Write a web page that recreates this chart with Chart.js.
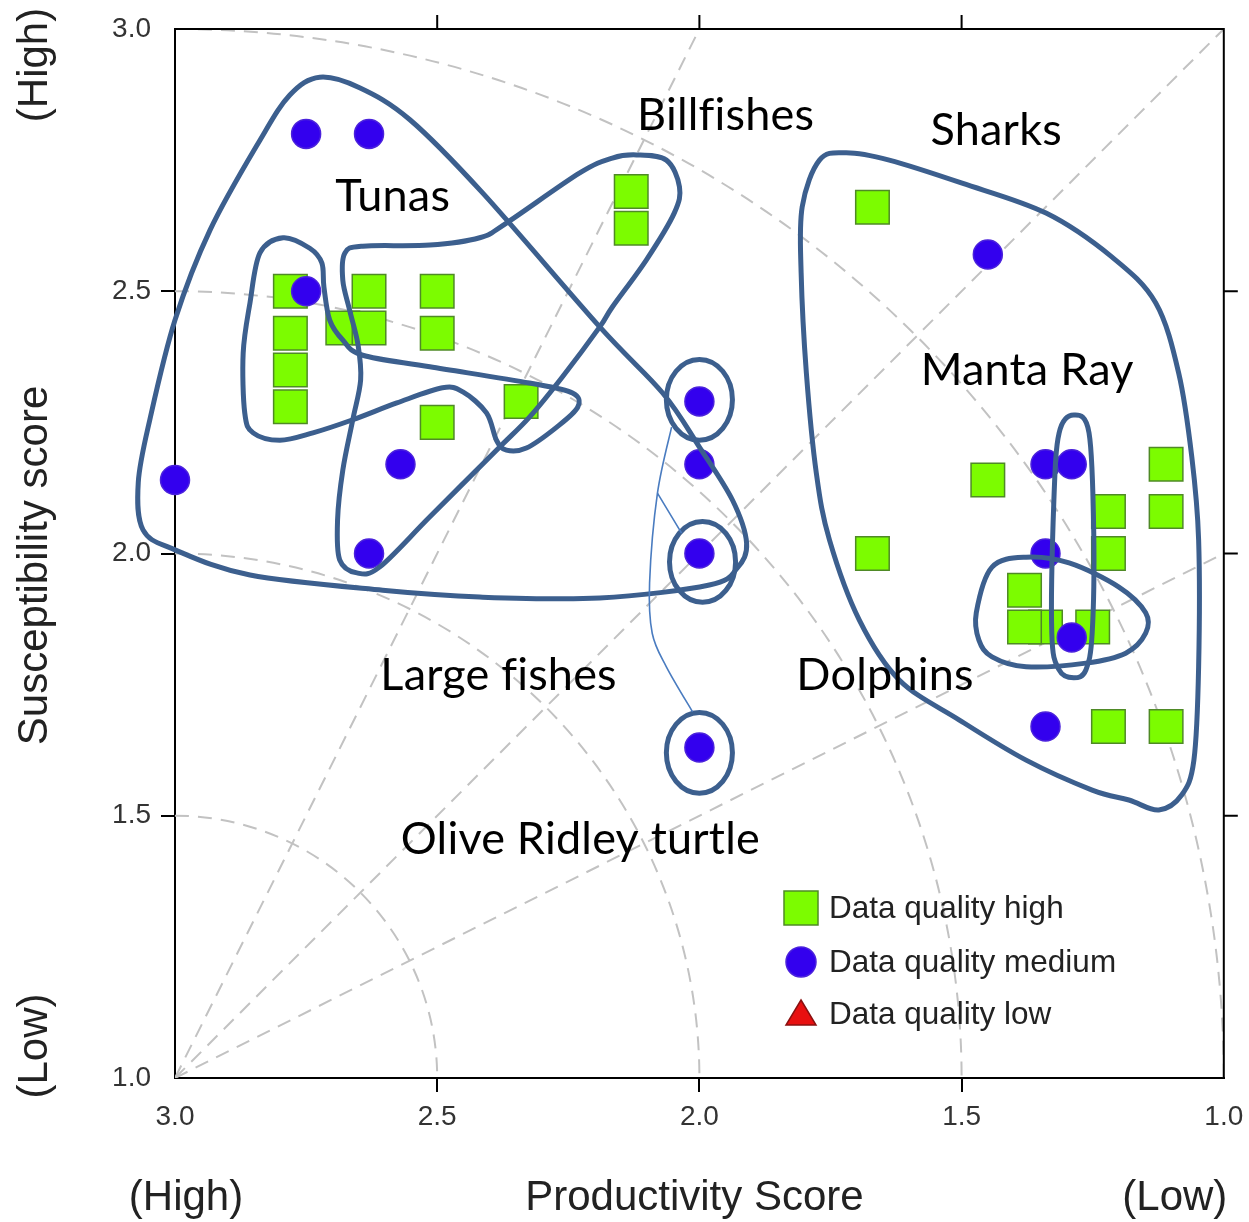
<!DOCTYPE html>
<html>
<head>
<meta charset="utf-8">
<script src="https://cdn.jsdelivr.net/npm/chart.js@4.4.1/dist/chart.umd.min.js"></script>
<style>
  html, body { margin: 0; padding: 0; background: #fff; }
  canvas { display: block; }
</style>
</head>
<body>
<canvas id="psa" width="1249" height="1222"></canvas>
<script>
// --- data (productivity x, susceptibility y) ---
const seriesNames = ["Data quality high", "Data quality medium", "Data quality low"];

// squares; the order matters where squares overlap
const highX = [2.78, 2.78, 2.78, 2.78, 2.68, 2.63, 2.63, 2.50, 2.50, 2.50, 2.34, 2.13, 2.13,
               1.67, 1.67, 1.45, 1.11, 1.11, 1.22, 1.22, 1.34, 1.38, 1.38, 1.25, 1.22, 1.11];
const highY = [2.50, 2.42, 2.35, 2.28, 2.43, 2.50, 2.43, 2.50, 2.42, 2.25, 2.29, 2.69, 2.62,
               2.66, 2.00, 2.14, 2.17, 2.08, 2.08, 2.00, 1.86, 1.93, 1.86, 1.86, 1.67, 1.67];

const mediumX = [2.75, 2.63, 2.75, 3.00, 2.57, 2.63, 2.00, 2.00, 2.00, 2.00, 1.45, 1.34, 1.29, 1.34, 1.29, 1.34];
const mediumY = [2.80, 2.80, 2.50, 2.14, 2.17, 2.00, 2.29, 2.17, 2.00, 1.63, 2.57, 2.17, 2.17, 2.00, 1.84, 1.67];

const lowX = [];
const lowY = [];

const tickValues = [1.0, 1.5, 2.0, 2.5, 3.0];
const xTickLabels = ["1.0", "1.5", "2.0", "2.5", "3.0"];
const yTickLabels = ["1.0", "1.5", "2.0", "2.5", "3.0"];

// hand drawn group outlines, in score units
const tunasOutline = [[2.724,2.908],[2.648,2.888],[2.552,2.827],[2.413,2.687],[2.190,2.432],[2.070,2.306],
  [2.000,2.203],[1.937,2.102],[1.910,2.020],[1.928,1.972],[1.981,1.940],[2.190,1.915],[2.419,1.917],
  [2.604,1.930],[2.857,1.959],[3.000,2.007],[3.061,2.045],[3.070,2.136],[3.048,2.255],[3.000,2.445],
  [2.933,2.617],[2.838,2.788],[2.781,2.874]];
const smallTunaOutline = [[2.794,2.602],[2.743,2.582],[2.720,2.554],[2.716,2.508],[2.705,2.445],[2.680,2.407],
  [2.642,2.378],[2.514,2.356],[2.324,2.325],[2.242,2.306],[2.232,2.279],[2.272,2.241],[2.330,2.201],
  [2.368,2.197],[2.387,2.216],[2.406,2.268],[2.451,2.308],[2.490,2.316],[2.577,2.287],[2.661,2.255],
  [2.737,2.230],[2.800,2.216],[2.851,2.230],[2.867,2.268],[2.870,2.382],[2.857,2.478],[2.838,2.573]];
const billfishOutline = [[2.676,2.573],[2.642,2.586],[2.514,2.588],[2.419,2.602],[2.368,2.630],[2.229,2.725],
  [2.166,2.754],[2.120,2.760],[2.063,2.750],[2.038,2.699],[2.048,2.649],[2.101,2.560],[2.166,2.470],
  [2.190,2.432],[2.261,2.337],[2.324,2.260],[2.387,2.197],[2.514,2.070],[2.610,1.974],[2.653,1.963],
  [2.686,1.988],[2.690,2.064],[2.680,2.159],[2.661,2.255],[2.646,2.331],[2.651,2.398],[2.667,2.464],
  [2.680,2.521]];
const sharksOutline = [[1.771,2.750],[1.720,2.764],[1.638,2.750],[1.499,2.706],[1.339,2.649],[1.213,2.565],
  [1.130,2.478],[1.086,2.344],[1.061,2.184],[1.048,2.026],[1.048,1.784],[1.057,1.606],[1.080,1.540],
  [1.124,1.511],[1.181,1.530],[1.251,1.549],[1.377,1.606],[1.505,1.683],[1.619,1.759],[1.695,1.873],
  [1.752,2.026],[1.777,2.153],[1.796,2.344],[1.806,2.535],[1.804,2.661]];
const dolphinOutline = [[1.472,1.887],[1.442,1.974],[1.377,1.993],[1.295,1.982],[1.200,1.936],[1.149,1.887],
  [1.149,1.848],[1.187,1.810],[1.263,1.791],[1.377,1.784],[1.442,1.803],[1.467,1.835]];
const mantaOutline = [[1.286,2.264],[1.257,2.230],[1.248,2.039],[1.251,1.848],[1.263,1.778],[1.286,1.763],
  [1.314,1.778],[1.328,1.848],[1.324,2.102],[1.314,2.230]];
const outlines = [tunasOutline, smallTunaOutline, billfishOutline, sharksOutline, dolphinOutline, mantaOutline];

// rings round the single points at productivity 2.0
const ringX = [2.000, 1.994, 2.000];
const ringY = [2.293, 1.984, 1.620];
const turtleLink = [[2.053,2.241],[2.080,2.115],[2.095,1.944],[2.090,1.848],[2.063,1.784],[2.013,1.698]];
const turtleBranch = [[2.080,2.115],[2.034,2.039]];

const groupLabels = ["Tunas", "Billfishes", "Sharks", "Manta Ray", "Large fishes", "Dolphins", "Olive Ridley turtle"];
const groupLabelX = [2.585, 1.950, 1.434, 1.375, 2.383, 1.646, 2.227];
const groupLabelY = [2.680, 2.836, 2.807, 2.348, 1.768, 1.768, 1.454];

const toPoints = (xs, ys) => xs.map((x, i) => ({ x: x, y: ys[i] }));

const AXIS_FONT = "Liberation Sans";
const OUTLINE = "#3c5f8e";

function smoothClosed(ctx, pts) {
  const n = pts.length;
  ctx.moveTo(pts[0][0], pts[0][1]);
  for (let i = 0; i < n; i++) {
    const p0 = pts[(i - 1 + n) % n], p1 = pts[i], p2 = pts[(i + 1) % n], p3 = pts[(i + 2) % n];
    ctx.bezierCurveTo(p1[0] + (p2[0] - p0[0]) / 6, p1[1] + (p2[1] - p0[1]) / 6,
                      p2[0] - (p3[0] - p1[0]) / 6, p2[1] - (p3[1] - p1[1]) / 6, p2[0], p2[1]);
  }
  ctx.closePath();
}

function smoothOpen(ctx, pts) {
  const n = pts.length;
  ctx.moveTo(pts[0][0], pts[0][1]);
  for (let i = 0; i < n - 1; i++) {
    const p0 = pts[Math.max(i - 1, 0)], p1 = pts[i], p2 = pts[i + 1], p3 = pts[Math.min(i + 2, n - 1)];
    ctx.bezierCurveTo(p1[0] + (p2[0] - p0[0]) / 6, p1[1] + (p2[1] - p0[1]) / 6,
                      p2[0] - (p3[0] - p1[0]) / 6, p2[1] - (p3[1] - p1[1]) / 6, p2[0], p2[1]);
  }
}

const psaDecor = {
  id: "psaDecor",
  beforeDatasetsDraw(chart) {
    const { ctx, chartArea: a, scales: { x, y } } = chart;
    const cx = x.getPixelForValue(3), cy = y.getPixelForValue(1);
    ctx.save();
    ctx.beginPath();
    ctx.rect(a.left, a.top, a.right - a.left, a.bottom - a.top);
    ctx.clip();
    ctx.strokeStyle = "#c2c2c2";
    ctx.lineWidth = 2;
    ctx.setLineDash([14, 9]);
    [0.5, 1, 1.5, 2].forEach(r => {
      const rx = Math.abs(x.getPixelForValue(3 - r) - cx);
      const ry = Math.abs(y.getPixelForValue(1 + r) - cy);
      ctx.beginPath();
      ctx.ellipse(cx, cy, rx, ry, 0, -Math.PI / 2, 0);
      ctx.stroke();
    });
    [0.5, 1, 2].forEach(s => {
      const t = Math.min(2, 2 / s);
      ctx.beginPath();
      ctx.moveTo(cx, cy);
      ctx.lineTo(x.getPixelForValue(3 - t), y.getPixelForValue(1 + s * t));
      ctx.stroke();
    });
    ctx.restore();
  },
  afterDatasetsDraw(chart) {
    const { ctx, scales: { x, y } } = chart;
    const px = p => [x.getPixelForValue(p[0]), y.getPixelForValue(p[1])];
    ctx.save();
    ctx.strokeStyle = OUTLINE;
    ctx.lineWidth = 5;
    ctx.lineJoin = "round";
    outlines.forEach(o => {
      ctx.beginPath();
      smoothClosed(ctx, o.map(px));
      ctx.stroke();
    });
    const rx = Math.abs(x.getPixelForValue(2) - x.getPixelForValue(2.063));
    const ry = Math.abs(y.getPixelForValue(2) - y.getPixelForValue(2.077));
    ringX.forEach((v, i) => {
      ctx.beginPath();
      ctx.ellipse(x.getPixelForValue(v), y.getPixelForValue(ringY[i]), rx, ry, 0, 0, Math.PI * 2);
      ctx.stroke();
    });
    ctx.strokeStyle = "#4a7cc0";
    ctx.lineWidth = 1.6;
    [turtleLink, turtleBranch].forEach(l => {
      ctx.beginPath();
      smoothOpen(ctx, l.map(px));
      ctx.stroke();
    });
    ctx.fillStyle = "#000";
    ctx.font = '45px Lato';
    ctx.letterSpacing = "0.2px";
    ctx.textAlign = "center";
    ctx.textBaseline = "middle";
    groupLabels.forEach((t, i) => {
      ctx.fillText(t, x.getPixelForValue(groupLabelX[i]), y.getPixelForValue(groupLabelY[i]));
    });
    ctx.restore();
  },
  afterDraw(chart) {
    const { ctx, chartArea: a, scales: { x, y } } = chart;
    ctx.save();
    // frame top / right with outward ticks
    ctx.strokeStyle = "#000";
    ctx.lineWidth = 2;
    ctx.beginPath();
    ctx.moveTo(a.left, a.top);
    ctx.lineTo(a.right, a.top);
    ctx.lineTo(a.right, a.bottom);
    tickValues.slice(1, -1).forEach(v => {
      const tx = x.getPixelForValue(v);
      ctx.moveTo(tx, a.top);
      ctx.lineTo(tx, a.top - 14);
      const ty = y.getPixelForValue(v);
      ctx.moveTo(a.right, ty);
      ctx.lineTo(a.right + 14, ty);
    });
    ctx.stroke();

    // axis titles
    ctx.fillStyle = "#222";
    ctx.font = '42px "' + AXIS_FONT + '"';
    ctx.textBaseline = "middle";
    ctx.textAlign = "center";
    const by = a.bottom + 120;
    ctx.fillText("(High)", a.left + 11, by);
    ctx.fillText("Productivity Score", (a.left + a.right) / 2 - 5, by);
    ctx.fillText("(Low)", a.right - 49, by);
    const lx = a.left - 140;
    [["(High)", a.top + 36], ["Susceptibility score", (a.top + a.bottom) / 2 + 12], ["(Low)", a.bottom - 32]].forEach(([t, ty]) => {
      ctx.save();
      ctx.translate(lx, ty);
      ctx.rotate(-Math.PI / 2);
      ctx.fillText(t, 0, 0);
      ctx.restore();
    });

    // legend
    const ds = chart.data.datasets;
    const mx = a.left + 626;
    let ly = a.bottom - 170;
    ctx.font = '31.5px "' + AXIS_FONT + '"';
    ctx.textAlign = "left";
    ds.forEach((d, i) => {
      ctx.fillStyle = d.backgroundColor;
      ctx.strokeStyle = d.borderColor;
      ctx.lineWidth = 1.5;
      ctx.beginPath();
      if (d.pointStyle === "rect") {
        ctx.rect(mx - 17, ly - 17, 34, 34);
      } else if (d.pointStyle === "circle") {
        ctx.arc(mx, ly, 15, 0, Math.PI * 2);
      } else {
        ctx.moveTo(mx, ly - 14);
        ctx.lineTo(mx + 15, ly + 11);
        ctx.lineTo(mx - 15, ly + 11);
        ctx.closePath();
      }
      ctx.fill();
      ctx.stroke();
      ctx.fillStyle = "#222";
      ctx.fillText(seriesNames[i], mx + 28, ly + 1);
      ly += i === 0 ? 54 : 52;
    });
    ctx.restore();
  }
};

const endTick = c => (c.tick && (c.tick.value === 1 || c.tick.value === 3)) ? "rgba(0,0,0,0)" : "#000";

new Chart(document.getElementById("psa"), {
  type: "scatter",
  data: {
    datasets: [
      {
        label: seriesNames[0],
        data: toPoints(highX, highY),
        pointStyle: "rect",
        pointRadius: 23.7,
        backgroundColor: "#7cfc00",
        borderColor: "#4f8a26",
        borderWidth: 1.5,
        clip: false,
        order: 2
      },
      {
        label: seriesNames[1],
        data: toPoints(mediumX, mediumY),
        pointStyle: "circle",
        pointRadius: 14.5,
        backgroundColor: "#3300ee",
        borderColor: "#4b22dc",
        borderWidth: 1.5,
        clip: false,
        order: 1
      },
      {
        label: seriesNames[2],
        data: toPoints(lowX, lowY),
        pointStyle: "triangle",
        pointRadius: 15,
        backgroundColor: "#e81010",
        borderColor: "#8a1010",
        borderWidth: 1.5,
        clip: false,
        order: 0
      }
    ]
  },
  options: {
    responsive: false,
    animation: false,
    events: [],
    layout: { padding: { top: 29, right: 24, left: 0, bottom: 0 } },
    plugins: {
      legend: { display: false },
      tooltip: { enabled: false }
    },
    scales: {
      x: {
        type: "linear",
        min: 1,
        max: 3,
        reverse: true,
        afterBuildTicks: s => { s.ticks = tickValues.map(v => ({ value: v })); },
        afterFit: s => { s.height = 144; },
        ticks: {
          callback: v => xTickLabels[tickValues.indexOf(v)],
          font: { family: AXIS_FONT, size: 28 },
          color: "#333",
          padding: 8,
          maxRotation: 0,
          autoSkip: false
        },
        grid: { drawOnChartArea: false, tickLength: 14, lineWidth: 2, color: endTick },
        border: { color: "#000", width: 2 }
      },
      y: {
        type: "linear",
        min: 1,
        max: 3,
        afterBuildTicks: s => { s.ticks = tickValues.map(v => ({ value: v })); },
        afterFit: s => { s.width = 175; },
        ticks: {
          callback: v => yTickLabels[tickValues.indexOf(v)],
          font: { family: AXIS_FONT, size: 28 },
          color: "#333",
          padding: 10,
          autoSkip: false
        },
        grid: { drawOnChartArea: false, tickLength: 14, lineWidth: 2, color: endTick },
        border: { color: "#000", width: 2 }
      }
    }
  },
  plugins: [psaDecor]
});
</script>
</body>
</html>
